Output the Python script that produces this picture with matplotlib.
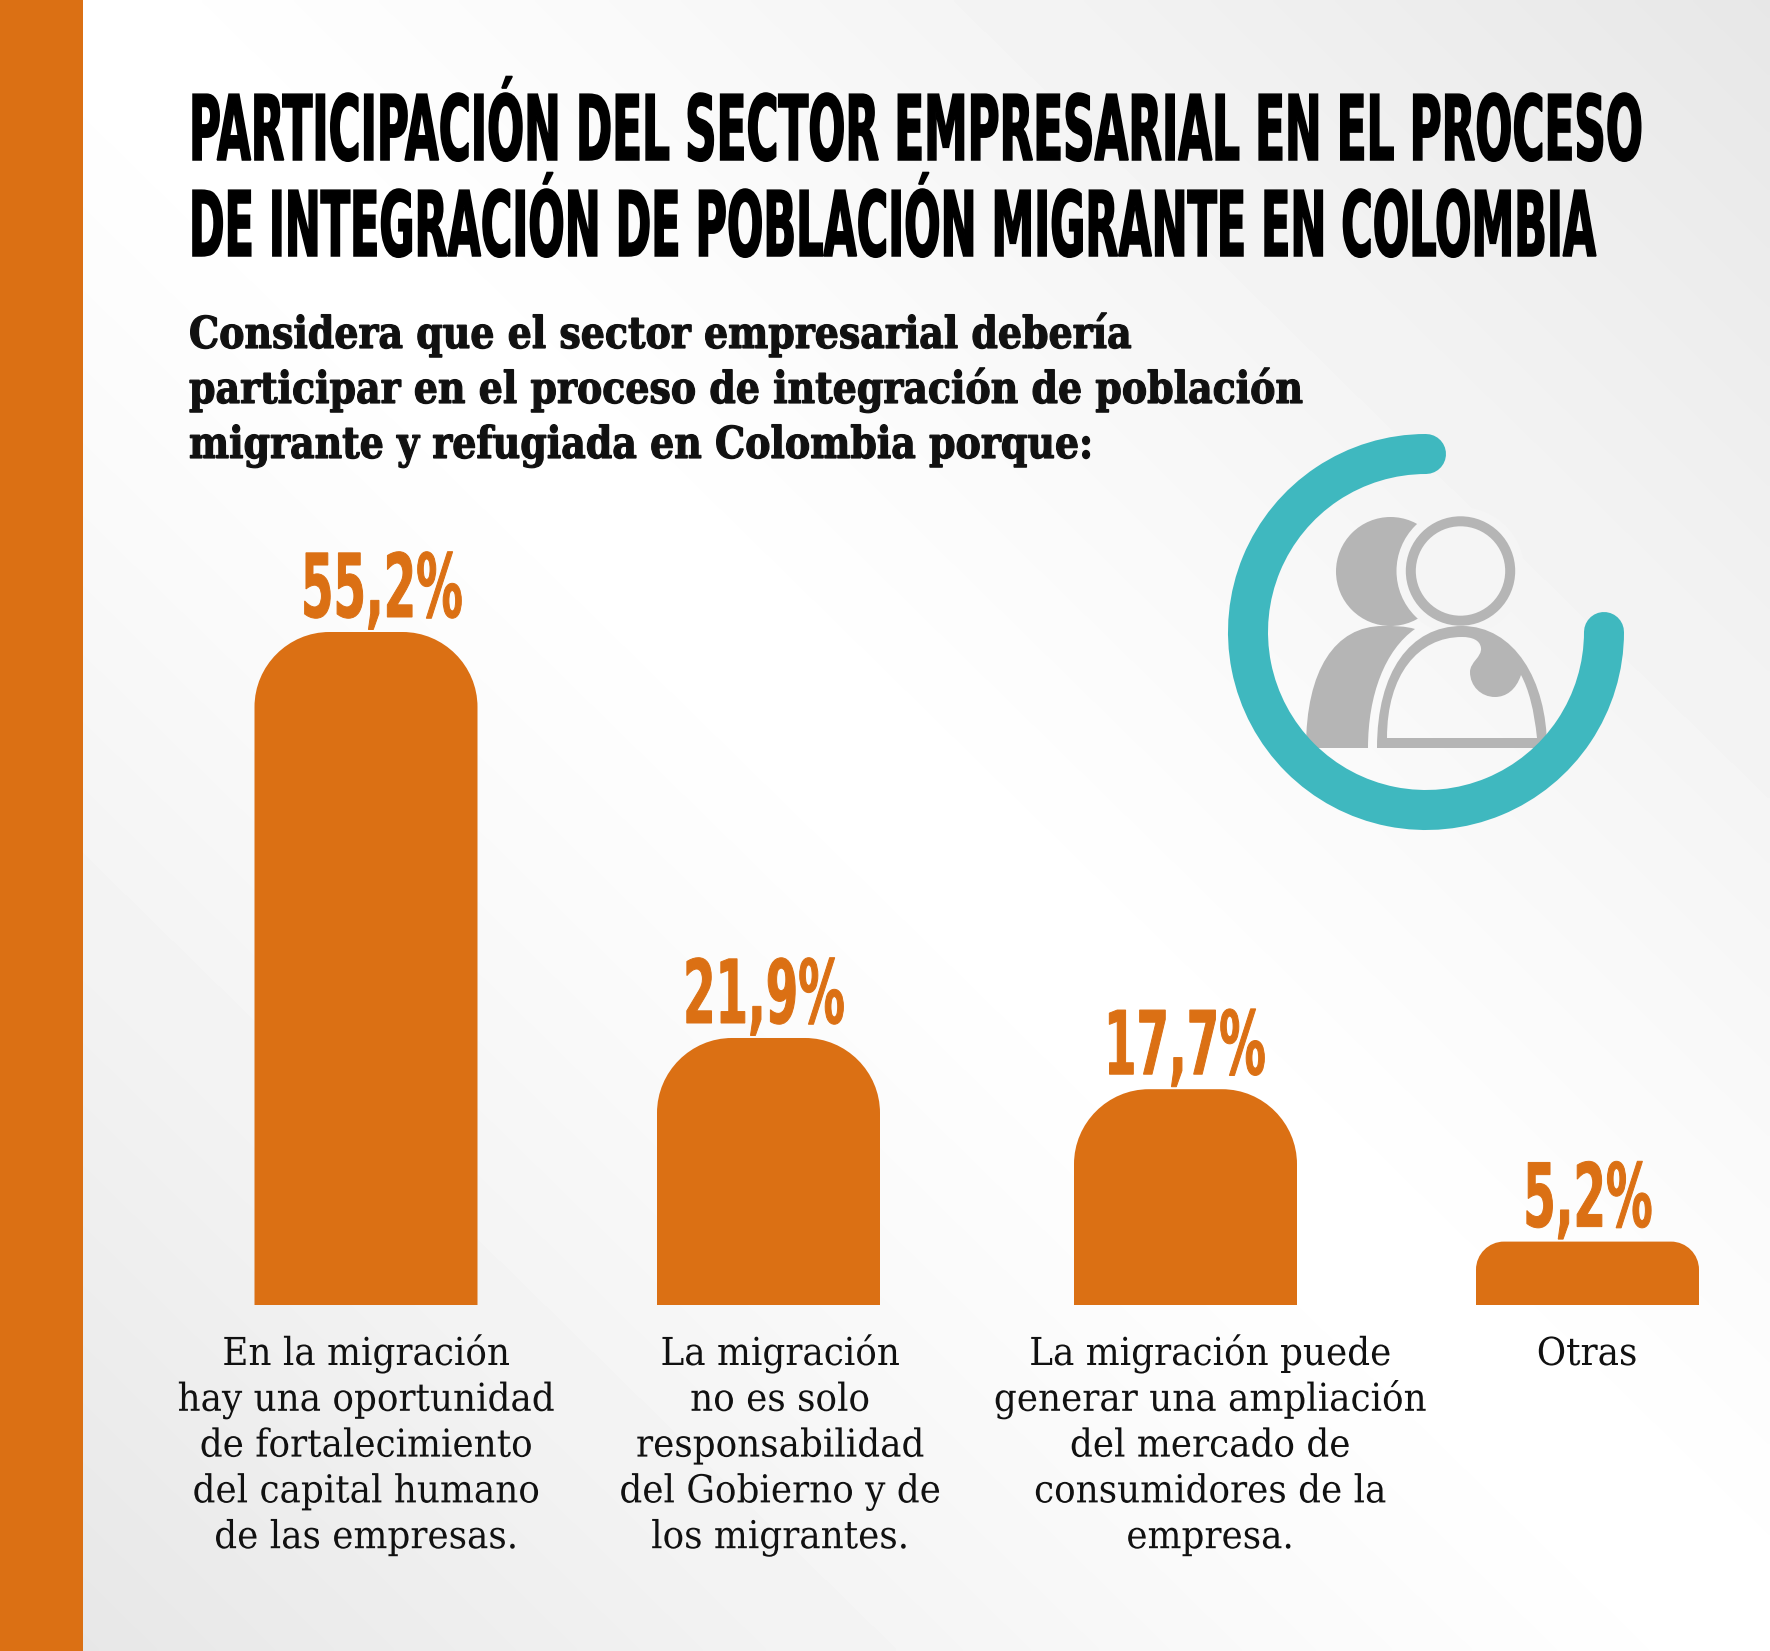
import numpy as np
import matplotlib
matplotlib.use("Agg")
import matplotlib.pyplot as plt
from matplotlib.patches import Arc, Circle, PathPatch, Rectangle
from matplotlib.patheffects import AbstractPathEffect
from matplotlib.path import Path
from matplotlib.transforms import Affine2D

# data
values = [55.2, 21.9, 17.7, 5.2]
value_labels = ["55,2%", "21,9%", "17,7%", "5,2%"]
categories = [
    ["En la migración", "hay una oportunidad", "de fortalecimiento", "del capital humano", "de las empresas."],
    ["La migración", "no es solo", "responsabilidad", "del Gobierno y de", "los migrantes."],
    ["La migración puede", "generar una ampliación", "del mercado de", "consumidores de la", "empresa."],
    ["Otras"],
]
title_lines = [
    "PARTICIPACIÓN DEL SECTOR EMPRESARIAL EN EL PROCESO",
    "DE INTEGRACIÓN DE POBLACIÓN MIGRANTE EN COLOMBIA",
]
subtitle_lines = [
    "Considera que el sector empresarial debería",
    "participar en el proceso de integración de población",
    "migrante y refugiada en Colombia porque:",
]

# layout, in pixels of the 1770x1651 canvas
W, H = 1770, 1651
BASE_Y = 1305
TOP_Y = 632
bar_x = [254.5, 657, 1074, 1476]
BAR_W = 223
radii = [75, 75, 75, 28]
value_x = [382, 764, 1185, 1588]
cat_x = [366, 780, 1210, 1587]
title_sx = [1.016, 0.998]

ORANGE = "#DB7014"
TEAL = "#3FB8BF"
GREY = "#B5B5B5"


class Stretch(AbstractPathEffect):
    """Rescale the glyphs around the text anchor, and thicken them a bit.
    None of the installed fonts is as condensed as the original one."""

    def __init__(self, x0, y0, sx=1.0, sy=1.0, bold=0.0):
        super().__init__()
        self.x0, self.y0 = x0, y0
        self.sx, self.sy = sx, sy
        self.bold = bold

    def draw_path(self, renderer, gc, tpath, affine, rgbFace=None):
        t = affine + (Affine2D().translate(-self.x0, -self.y0)
                      .scale(self.sx, self.sy).translate(self.x0, self.y0))
        gc0 = renderer.new_gc()
        gc0.copy_properties(gc)
        if self.bold > 0:
            gc0.set_linewidth(self.bold * 0.72)
            gc0.set_foreground(rgbFace)
            gc0.set_joinstyle("miter")
        renderer.draw_path(gc0, tpath, t, rgbFace)
        gc0.restore()


def bg_value(x, y):
    # grey in the top right and bottom left corners, white across the middle
    t = ((x - 82) / (W - 82) - y / H)
    return 1 - 0.095 * np.abs(t) ** 1.2


def bg_colour(x, y):
    v = float(bg_value(x, y))
    return (v, v, v)


def px_text(ax, x, y, s, size_px, sx=1.0, sy=1.0, bold=0.0, **kw):
    txt = ax.text(x, y, s, fontsize=size_px * 0.72, va="baseline", **kw)
    txt.set_path_effects([Stretch(x, H - y, sx, sy, bold)])
    return txt


def rounded_bar(ax, x, w, value, r, r_y):
    verts = [
        (x, 0), (x, value - r_y),
        (x, value - r_y * 0.45), (x + r * 0.45, value), (x + r, value),
        (x + w - r, value),
        (x + w - r * 0.45, value), (x + w, value - r_y * 0.45), (x + w, value - r_y),
        (x + w, 0), (x, 0),
    ]
    codes = [Path.MOVETO, Path.LINETO, Path.CURVE4, Path.CURVE4, Path.CURVE4, Path.LINETO,
             Path.CURVE4, Path.CURVE4, Path.CURVE4, Path.LINETO, Path.CLOSEPOLY]
    ax.add_patch(PathPatch(Path(verts, codes), fc=ORANGE, ec="none", lw=0))


def draw_icon(ax):
    cx, cy = 1460.5, 571
    # left person
    ax.add_patch(Circle((1390.5, 571.5), 54.5, fc=GREY, ec="none"))
    ax.add_patch(Circle((cx, cy), 64, fc=bg_colour(cx, cy), ec="none"))
    body = Path(
        [(1306, 748), (1306, 670), (1335, 626), (1383, 626), (1395, 626), (1405, 626), (1415, 629),
         (1385, 650), (1368, 695), (1368, 748), (1306, 748)],
        [Path.MOVETO] + [Path.CURVE4] * 9 + [Path.CLOSEPOLY],
    )
    ax.add_patch(PathPatch(body, fc=GREY, ec="none", lw=0))
    # right person, outline only
    ax.add_patch(Circle((cx, cy), 49.7, fc="none", ec=GREY, lw=10 * 0.72))
    verts = [(1377, 748), (1377, 672), (1410, 626), (1462, 626), (1514, 626), (1547, 680), (1547, 748), (1377, 748),
             (1387, 738), (1537, 738), (1534, 710), (1529, 690), (1521, 675), (1516, 690), (1506, 697), (1495, 697),
             (1481, 697), (1470, 686), (1470, 672), (1470, 662), (1482, 657), (1481, 648), (1480, 640), (1472, 637),
             (1462, 637), (1418, 637), (1387, 675), (1387, 738), (1387, 738)]
    codes = ([Path.MOVETO] + [Path.CURVE4] * 6 + [Path.CLOSEPOLY]
             + [Path.MOVETO, Path.LINETO] + [Path.CURVE4] * 18 + [Path.CLOSEPOLY])
    ax.add_patch(PathPatch(Path(verts, codes), fc=GREY, ec="none", lw=0))
    # ring on top of the people
    ax.add_patch(Arc((1426, 632), 356, 356, theta1=0, theta2=270, ec=TEAL, lw=40 * 0.72, capstyle="round"))


def main():
    fig = plt.figure(figsize=(W / 100, H / 100), dpi=100)
    ax = fig.add_axes([0, 0, 1, 1])
    ax.set_xlim(0, W)
    ax.set_ylim(H, 0)
    ax.axis("off")

    # background
    yy, xx = np.mgrid[0:H:4, 0:W:4]
    ax.imshow(bg_value(xx, yy), cmap="gray", vmin=0, vmax=1, extent=(0, W, H, 0), aspect="auto",
              interpolation="bilinear", zorder=0)
    ax.add_patch(Rectangle((0, 0), 82.5, H, fc=ORANGE, ec="none", zorder=1))

    for line, y, sx in zip(title_lines, [160, 256], title_sx):
        px_text(ax, 189, y, line, 43, sx=sx, sy=2.1, bold=1.5, family="DejaVu Sans", weight="bold", color="black", ha="left")
    for line, y in zip(subtitle_lines, [348, 403, 458]):
        px_text(ax, 189, y, line, 44, sx=0.862, bold=1.2, family="DejaVu Serif", weight="bold", color="#111111", ha="left")

    draw_icon(ax)

    # bars, y axis in percent
    ax_bar = fig.add_axes([0, 1 - BASE_Y / H, 1, (BASE_Y - TOP_Y) / H])
    ax_bar.set_xlim(0, W)
    ax_bar.set_ylim(0, max(values))
    ax_bar.axis("off")
    ax_bar.patch.set_alpha(0)
    px_per_unit = (BASE_Y - TOP_Y) / max(values)
    for x, v, r in zip(bar_x, values, radii):
        rounded_bar(ax_bar, x, BAR_W, v, r, r / px_per_unit)

    for x, v, lab in zip(value_x, values, value_labels):
        y = BASE_Y - v * px_per_unit - 15
        px_text(ax, x, y, lab, 88, sx=0.53, bold=1, family="DejaVu Sans", weight="bold", color=ORANGE, ha="center")

    for x, lines in zip(cat_x, categories):
        for i, line in enumerate(lines):
            px_text(ax, x, 1365 + i * 45.8, line, 38.5, sx=0.93, family="DejaVu Serif", color="#111111", ha="center")

    fig.savefig("out.png", dpi=100)


if __name__ == "__main__":
    main()
